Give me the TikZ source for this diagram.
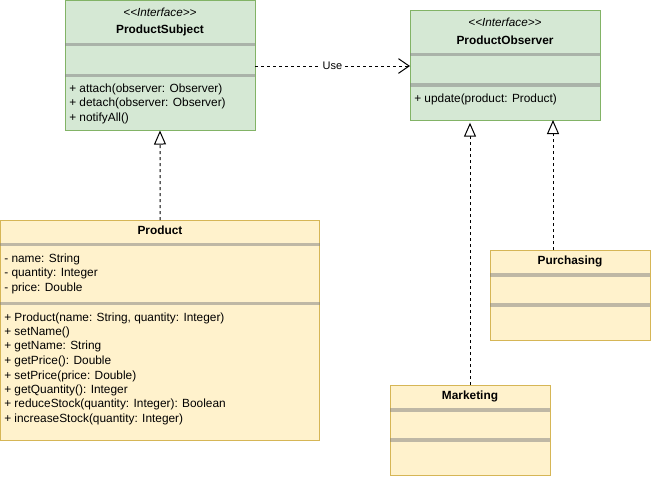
\documentclass[tikz,border=0pt]{standalone}
\usepackage{fontspec}
\setmainfont{Liberation Sans}
\usetikzlibrary{arrows.meta,calc}
\definecolor{gfill}{HTML}{D5E8D4}
\definecolor{gline}{HTML}{82B366}
\definecolor{yfill}{HTML}{FFF2CC}
\definecolor{yline}{HTML}{D6B656}
\tikzset{
  cls/.style={rectangle, inner sep=0pt, outer sep=0pt, line width=0.75pt, anchor=north west},
  gbox/.style={cls, draw=gline, fill=gfill},
  ybox/.style={cls, draw=yline, fill=yfill},
  sepline/.style={draw=black!50, draw opacity=0.5, line width=2.4pt},
  txt/.style={inner sep=0pt, font=\fontsize{8.9}{10}\selectfont, anchor=west},
  ctxt/.style={inner sep=0pt, font=\fontsize{8.9}{10}\selectfont},
  bold/.style={ctxt, font=\fontsize{8.9}{10}\selectfont\bfseries},
  ital/.style={ctxt, font=\fontsize{8.8}{10}\selectfont\itshape},
  real/.style={draw=black, line width=0.75pt, dash pattern=on 2.25pt off 2.25pt,
    -{Triangle[open, width=9pt, length=10.5pt, fill=white, line width=0.75pt]}},
  usearrow/.style={draw=black, line width=0.75pt, dash pattern=on 2.25pt off 2.25pt,
    -{Straight Barb[length=8pt, width=11pt, line width=0.75pt]}},
}
\begin{document}
\begin{tikzpicture}[x=0.75pt, y=-0.75pt]
\useasboundingbox (0,0) rectangle (651,476);

% ProductSubject
\node[gbox, minimum width=142.5pt, minimum height=97.5pt] (subject) at (65,0.5) {};
\node[ital] (subjS) at (160,12) {{<}{<}Interface{>}{>}};
\node[bold] (subjN) at (160,30) {ProductSubject};
\draw[sepline] (65,44.5) -- (255,44.5);
\draw[sepline] (65,75.5) -- (255,75.5);
\node[txt] (subjM1) at (69,89) {+ attach(observer: Observer)};
\node[txt] (subjM2) at (69,103.5) {+ detach(observer: Observer)};
\node[txt] (subjM3) at (69,118) {+ notifyAll()};

% ProductObserver
\node[gbox, minimum width=142.5pt, minimum height=82.5pt] (observer) at (410,10) {};
\node[ital] (obsS) at (505,22) {{<}{<}Interface{>}{>}};
\node[bold] (obsN) at (505,40) {ProductObserver};
\draw[sepline] (410,54.5) -- (600,54.5);
\draw[sepline] (410,85) -- (600,85);
\node[txt] (obsM1) at (414,99) {+ update(product: Product)};

% Product
\node[ybox, minimum width=239.5pt, minimum height=165pt] (product) at (0.5,220) {};
\node[bold] (prodN) at (160,230.5) {Product};
\draw[sepline] (0.5,244.5) -- (320,244.5);
\node[txt] (pa1) at (4,259) {- name: String};
\node[txt] (pa2) at (4,273.5) {- quantity: Integer};
\node[txt] (pa3) at (4,288) {- price: Double};
\draw[sepline] (0.5,303.5) -- (320,303.5);
\node[txt] (pm1) at (4,318) {+ Product(name: String, quantity: Integer)};
\node[txt] (pm2) at (4,332.5) {+ setName()};
\node[txt] (pm3) at (4,346.5) {+ getName: String};
\node[txt] (pm4) at (4,361.5) {+ getPrice(): Double};
\node[txt] (pm5) at (4,376) {+ setPrice(price: Double)};
\node[txt] (pm6) at (4,390) {+ getQuantity(): Integer};
\node[txt] (pm7) at (4,404.5) {+ reduceStock(quantity: Integer): Boolean};
\node[txt] (pm8) at (4,419) {+ increaseStock(quantity: Integer)};

% Purchasing
\node[ybox, minimum width=120pt, minimum height=67.5pt] (purchasing) at (490,250) {};
\node[bold] (purN) at (570,261) {Purchasing};
\draw[sepline] (490,275) -- (650,275);
\draw[sepline] (490,305) -- (650,305);

% Marketing
\node[ybox, minimum width=120pt, minimum height=67.5pt] (marketing) at (390,385) {};
\node[bold] (marN) at (470,396) {Marketing};
\draw[sepline] (390,410) -- (550,410);
\draw[sepline] (390,440) -- (550,440);

% connectors
\draw[usearrow] (subject.east |- 0,66) -- node[inner sep=1pt, fill=white, font=\fontsize{8.25}{10}\selectfont] {Use} (observer.west |- 0,66);
\draw[real] (product.north) -- (subject.south);
\draw[real, shorten >=2pt] (marketing.north) -- (marketing.north |- observer.south);
\coordinate (pc) at ($(purchasing.north)+(-17,0)$);
\draw[real] (pc) -- (pc |- observer.south);
\end{tikzpicture}
\end{document}
